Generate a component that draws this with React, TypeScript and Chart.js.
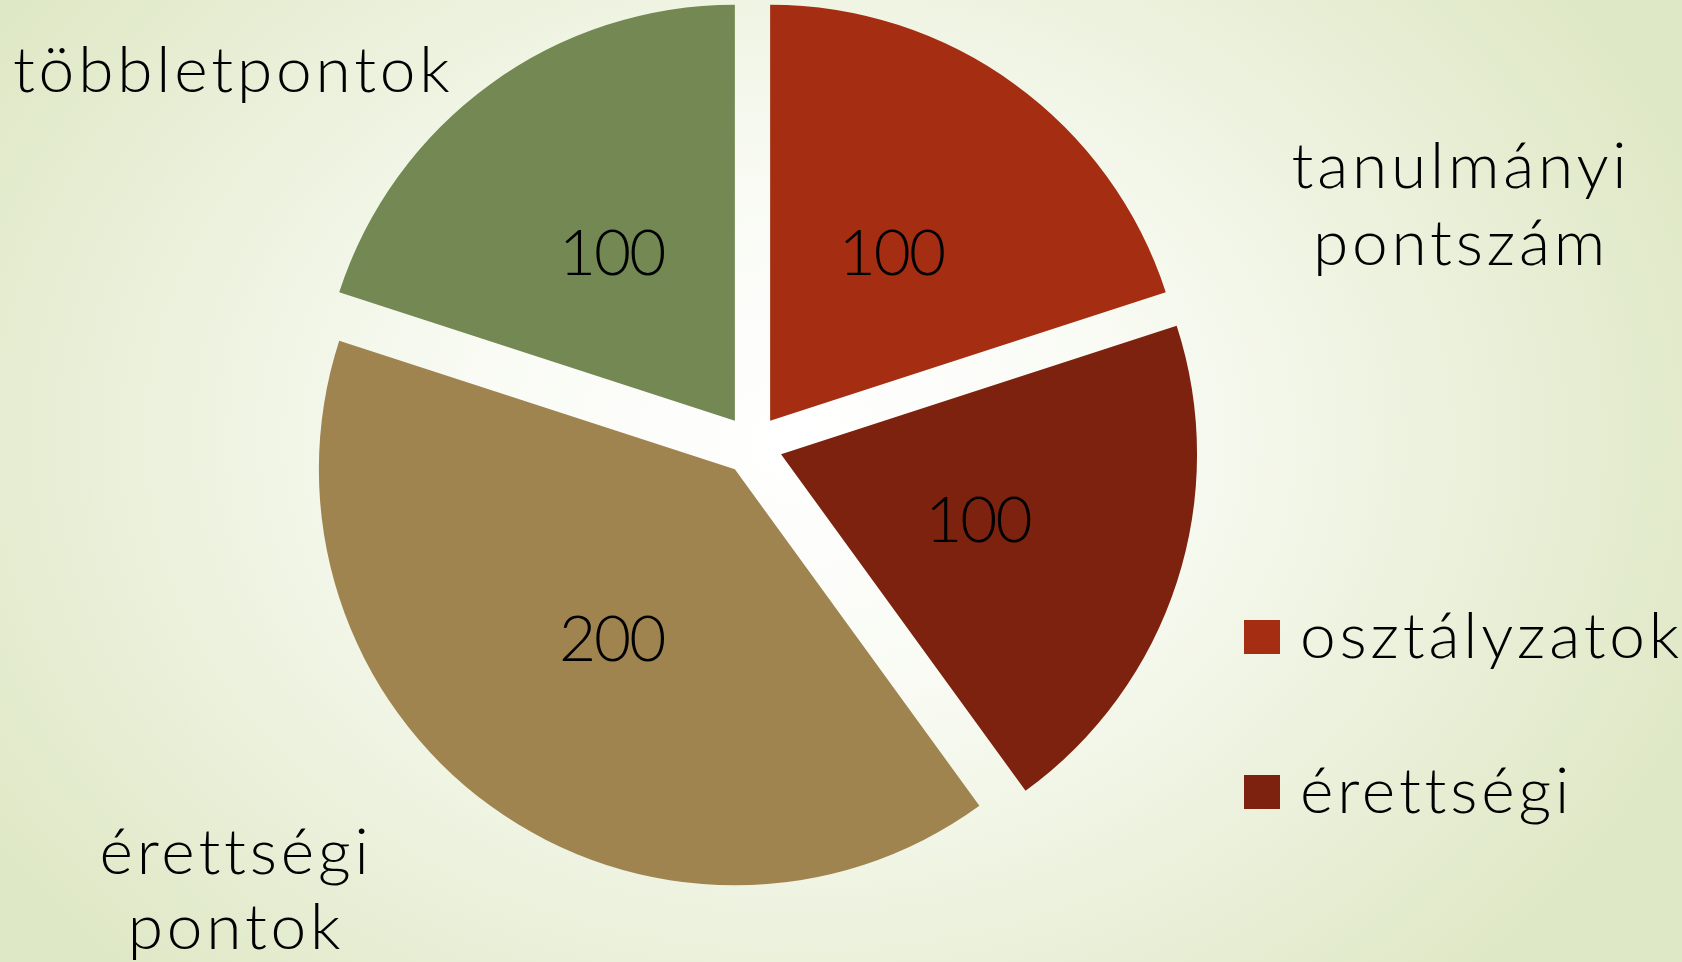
import React, { useEffect, useRef } from "react";
import { Chart, registerables, ArcElement } from "chart.js";

Chart.register(...registerables);

// ---- data ----
const categories = ["osztályzatok", "érettségi", "érettségi pontok", "többletpontok"];
const points = [100, 100, 200, 100];
const sliceColors = ["#a52e12", "#7c220e", "#a08450", "#738853"];
const legendCategories = ["osztályzatok", "érettségi"];
const tanulmanyiLabel = ["tanulmányi", "pontszám"];
const tobbletLabel = ["többletpontok"];
const erettsegiPontokLabel = ["érettségi", "pontok"];

// ---- style ----
const FONT_FAMILY = 'Lato, "Noto Sans", "DejaVu Sans", sans-serif';
const FONT = `300 64px ${FONT_FAMILY}`;
const WORD_SPACING = "3.8px";
const DIGIT_SPACING = "-2px";
const EXPLODE = 30;
const W = 1682;
const H = 962;

const backgroundPlugin = {
  id: "slideBackground",
  beforeDraw(chart: any) {
    const { ctx } = chart;
    ctx.save();
    const cx = 800;
    const cy = 440;
    const sy = 0.78;
    ctx.translate(cx, cy);
    ctx.scale(1, sy);
    const g = ctx.createRadialGradient(0, 0, 0, 0, 0, 950);
    g.addColorStop(0, "#ffffff");
    g.addColorStop(0.35, "#f9fbf4");
    g.addColorStop(1, "#dfe8c6");
    ctx.fillStyle = g;
    ctx.fillRect(-cx, -cy / sy, W, H / sy);
    ctx.restore();
  },
};

const explodePlugin = {
  id: "explodeSlices",
  beforeDatasetDraw(_chart: any, args: any) {
    const base = ArcElement.prototype.draw;
    args.meta.data.forEach((el: any) => {
      if (el.__exploded) return;
      el.__exploded = true;
      el.draw = function (ctx: CanvasRenderingContext2D, area: any) {
        const a = (this.startAngle + this.endAngle) / 2;
        ctx.save();
        ctx.translate(Math.cos(a) * EXPLODE, Math.sin(a) * EXPLODE);
        base.call(this, ctx, area);
        ctx.restore();
      };
    });
  },
};

const textPlugin = {
  id: "sliceTexts",
  afterDatasetsDraw(chart: any) {
    const { ctx } = chart;
    const meta = chart.getDatasetMeta(0);
    ctx.save();
    ctx.font = FONT;
    ctx.fillStyle = "#000000";
    ctx.textBaseline = "alphabetic";

    // value labels inside the slices
    ctx.textAlign = "center";
    (ctx as any).letterSpacing = DIGIT_SPACING;
    meta.data.forEach((el: any, i: number) => {
      const a = (el.startAngle + el.endAngle) / 2;
      const d = EXPLODE + el.outerRadius * 0.5;
      const x = el.x + Math.cos(a) * d;
      const y = el.y + Math.sin(a) * d;
      ctx.fillText(String(points[i]), x - 1, y + 23);
    });

    // group / category annotations
    (ctx as any).letterSpacing = WORD_SPACING;
    ctx.textAlign = "left";
    tobbletLabel.forEach((t, i) => ctx.fillText(t, 13, 92 + i * 77));
    ctx.textAlign = "center";
    tanulmanyiLabel.forEach((t, i) => ctx.fillText(t, 1461, 188 + i * 77));
    erettsegiPontokLabel.forEach((t, i) => ctx.fillText(t, 236, 874 + i * 75));

    // legend
    ctx.textAlign = "left";
    legendCategories.forEach((name, i) => {
      const idx = categories.indexOf(name);
      const top = 620 + i * 155;
      ctx.fillStyle = sliceColors[idx];
      ctx.fillRect(1244, top, 36, 34);
      ctx.fillStyle = "#000000";
      ctx.fillText(name, 1300, top + 38);
    });
    ctx.restore();
  },
};

export default function App() {
  const canvasRef = useRef<HTMLCanvasElement | null>(null);

  useEffect(() => {
    if (!canvasRef.current) return;
    const chart = new Chart(canvasRef.current, {
      type: "pie",
      data: {
        labels: categories,
        datasets: [
          {
            data: points,
            backgroundColor: sliceColors,
            borderWidth: 0,
          },
        ],
      },
      options: {
        responsive: false,
        animation: false,
        events: [],
        radius: 416,
        layout: { padding: { left: 0, right: 177, top: 0, bottom: 72 } },
        plugins: {
          legend: { display: false },
          tooltip: { enabled: false },
        },
      } as any,
      plugins: [backgroundPlugin, explodePlugin, textPlugin],
    });
    return () => chart.destroy();
  }, []);

  return (
    <div style={{ position: "fixed", left: 0, top: 0, width: W, height: H }}>
      <canvas ref={canvasRef} width={W} height={H} style={{ display: "block" }} />
    </div>
  );
}
